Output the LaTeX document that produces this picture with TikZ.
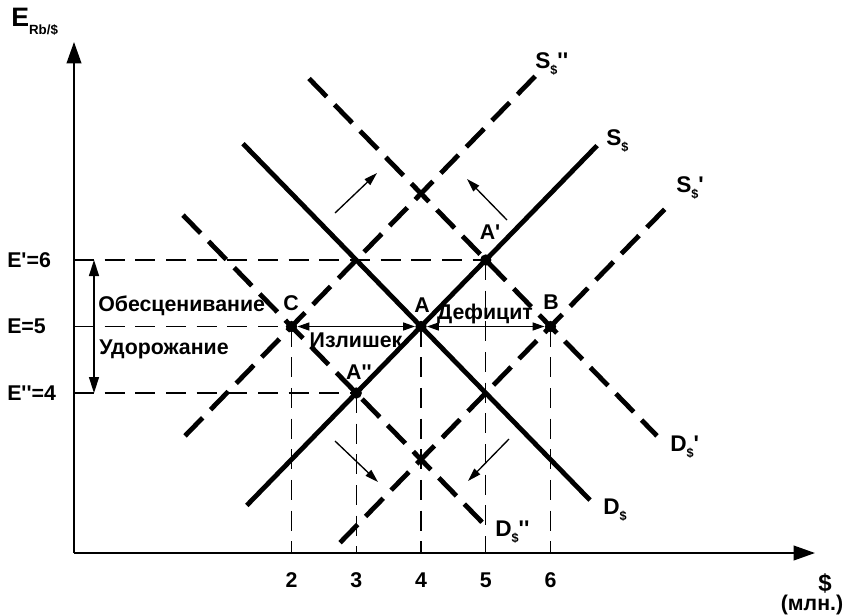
\documentclass[tikz,border=0pt]{standalone}
\usepackage{fontspec}
\newfontfamily\lab{Liberation Sans}
\usetikzlibrary{arrows.meta}
\newcommand\subd{\raisebox{-0.55ex}{\fontsize{9.5}{9.5}\selectfont\$}}
\begin{document}
\begin{tikzpicture}[x=0.75pt,y=-0.75pt,
  font=\lab\bfseries\fontsize{16}{18}\selectfont,
  curve/.style={line width=3.6pt},
  dcurve/.style={line width=3.6pt, dash pattern=on 19pt off 8.5pt},
  guide/.style={line width=1.1pt, dash pattern=on 15pt off 8pt},
  ax/.style={line width=1.3pt,-{Triangle[length=16pt,width=11pt]}},
  shiftarr/.style={line width=1pt,-{Triangle[length=10pt,width=6pt]}},
  dbl/.style={line width=1.1pt,{Triangle[length=9pt,width=6pt]}-{Triangle[length=9pt,width=6pt]}},
  vdbl/.style={line width=1.1pt,{Triangle[length=12pt,width=7.5pt]}-{Triangle[length=12pt,width=7.5pt]}},
  dot/.style={circle,fill,inner sep=0pt,minimum size=8.5pt},
  lbl/.style={inner sep=0pt},
  clbl/.style={inner sep=0pt,anchor=west,font=\lab\bfseries\fontsize{17}{19}\selectfont},
]
\useasboundingbox (0,0) rectangle (847,615);
% axes
\coordinate (O) at (74,553);
\coordinate (Ytip) at (74,42);
\coordinate (Xtip) at (815,553);
\draw[ax] (O) -- (Ytip);
\draw[ax] (O) -- (Xtip);
% points
\node[dot] (C) at (291.5,326.5) {};
\node[dot] (A) at (421,326.5) {};
\node[dot] (B) at (550.5,326.5) {};
\node[dot] (A1) at (485.75,260) {};
\node[dot] (A2) at (356.25,393) {};
% guides
\draw[guide] (O|-A1) -- (A1.center);
\draw[guide] (O|-C) -- (C.center);
\draw[guide] (O|-A2) -- (A2.center);
\draw[guide] (C.center) -- (C|-O);
\draw[guide] (A2.center) -- (A2|-O);
\draw[guide] (A.center) -- (A|-O);
\draw[guide] (A1.center) -- (A1|-O);
\draw[guide] (B.center) -- (B|-O);
% curves
\coordinate (Ss0) at (246.8,505.4); \coordinate (Ss1) at (597.1,145.6);
\coordinate (Ds0) at (243,143.7);   \coordinate (Ds1) at (590,500.1);
\coordinate (S2a) at (185,435.9);   \coordinate (S2b) at (537,74.4);
\coordinate (D2a) at (183,215.1);   \coordinate (D2b) at (487,527.3);
\coordinate (D1a) at (309,78.5);    \coordinate (D1b) at (657,435.9);
\coordinate (S1a) at (340,542.7);   \coordinate (S1b) at (672,201.7);
\draw[curve] (Ss0) -- (Ss1);
\draw[curve] (Ds0) -- (Ds1);
\draw[dcurve] (S2a) -- (S2b);
\draw[dcurve] (D2a) -- (D2b);
\draw[dcurve] (D1a) -- (D1b);
\draw[dcurve] (S1a) -- (S1b);
% double arrows
\draw[dbl] (C) -- (A);
\draw[dbl] (A) -- (B);
\coordinate (L6) at (94,260);
\coordinate (L4) at (94,393);
\draw[vdbl] (L6) -- (L4);
% shift arrows
\coordinate (u1a) at (335,213); \coordinate (u1b) at (377,173);
\coordinate (u2a) at (507,220); \coordinate (u2b) at (467,179);
\coordinate (d1a) at (335,441); \coordinate (d1b) at (378,482);
\coordinate (d2a) at (509,439); \coordinate (d2b) at (468,481);
\draw[shiftarr] (u1a) -- (u1b);
\draw[shiftarr] (u2a) -- (u2b);
\draw[shiftarr] (d1a) -- (d1b);
\draw[shiftarr] (d2a) -- (d2b);
% axis labels
\node[lbl,anchor=west] (ylab) at (11,22) {{\fontsize{20}{20}\selectfont E}\raisebox{-0.7ex}{\fontsize{10}{10}\selectfont Rb/\$}};
\node[lbl] (xlab) at (825,583) {{\fontsize{18}{18}\selectfont\$}};
\node[lbl] (xunit) at (812,605) {(млн.)};
\node[lbl] (t2) at (291.5,580) {2};
\node[lbl] (t3) at (356.25,580) {3};
\node[lbl] (t4) at (421,580) {4};
\node[lbl] (t5) at (485.75,580) {5};
\node[lbl] (t6) at (550.5,580) {6};
\node[lbl,anchor=west] (e6) at (7,260) {E'=6};
\node[lbl,anchor=west] (e5) at (7,326.5) {E=5};
\node[lbl,anchor=west] (e4) at (7,393) {E''=4};
\node[lbl,anchor=west] (obes) at (98,306) {Обесценивание};
\node[lbl,anchor=west] (udor) at (99,349) {Удорожание};
\node[lbl] (izl) at (356,340) {Излишек};
\node[lbl] (def) at (485,314) {Дефицит};
% point labels
\node[lbl] (lC) at (291,303) {C};
\node[lbl] (lA) at (422,305) {A};
\node[lbl] (lB) at (551,302) {B};
\node[lbl] (lA1) at (490,232) {A'};
\node[lbl] (lA2) at (359,372) {A''};
% curve labels
\node[clbl] (lS2) at (535,64) {S\subd''};
\node[clbl] (lS) at (606,141) {S\subd};
\node[clbl] (lS1) at (676,188) {S\subd'};
\node[clbl] (lD1) at (670,447) {D\subd'};
\node[clbl] (lD) at (603,510) {D\subd};
\node[clbl] (lD2) at (495,532) {D\subd''};
\end{tikzpicture}
\end{document}
